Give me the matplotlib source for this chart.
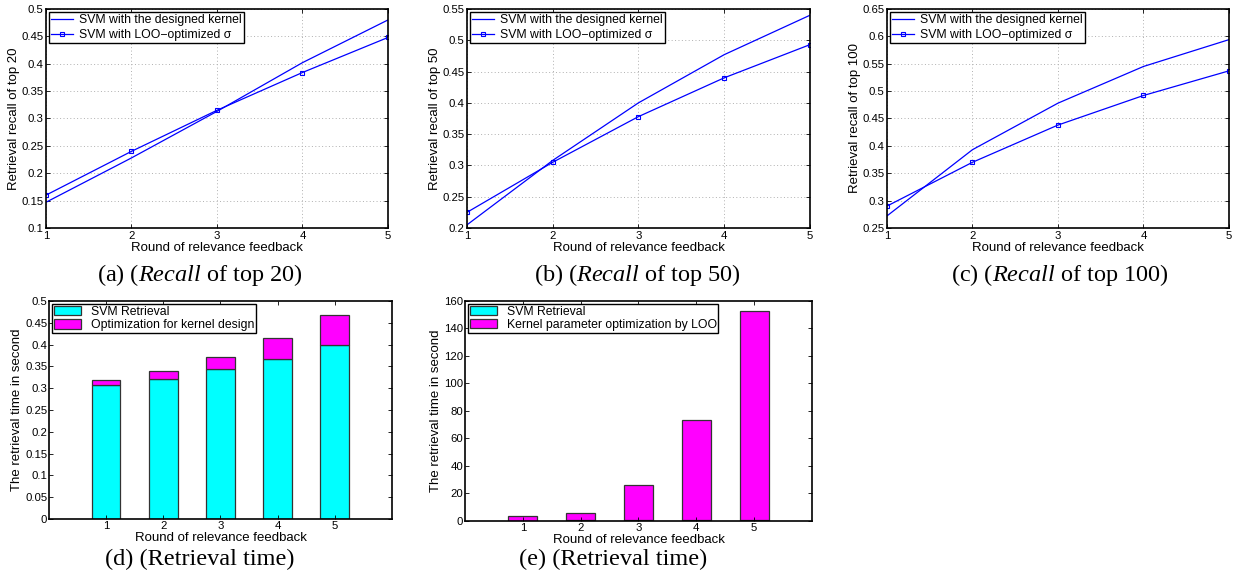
# Recall and retrieval-time figure: three line panels on top, two bar panels below
import numpy as np
import matplotlib
matplotlib.use('Agg')
import matplotlib.pyplot as plt
from matplotlib.ticker import FormatStrFormatter

plt.rcParams['font.family'] = ['Liberation Sans', 'DejaVu Sans']
plt.rcParams['mathtext.fontset'] = 'custom'
plt.rcParams['mathtext.rm'] = 'Liberation Serif'
plt.rcParams['mathtext.it'] = 'Liberation Serif:italic'

# data
rounds = [1, 2, 3, 4, 5]

recall20_designed = [0.147, 0.228, 0.313, 0.402, 0.480]
recall20_loo = [0.160, 0.240, 0.315, 0.384, 0.448]

recall50_designed = [0.205, 0.308, 0.400, 0.477, 0.540]
recall50_loo = [0.225, 0.305, 0.378, 0.440, 0.493]

recall100_designed = [0.272, 0.393, 0.478, 0.545, 0.594]
recall100_loo = [0.290, 0.370, 0.438, 0.492, 0.537]

svm_time = [0.308, 0.322, 0.343, 0.368, 0.398]
kernel_design_time = [0.010, 0.017, 0.028, 0.046, 0.069]
loo_time = [3.2, 5.7, 25.7, 72.7, 152.6]

legend_lines = ['SVM with the designed kernel', 'SVM with LOO\u2212optimized \u03c3']
legend_d = ['SVM Retrieval', 'Optimization for kernel design']
legend_e = ['SVM Retrieval', 'Kernel parameter optimization by LOO']

xlab = 'Round of relevance feedback'
tick_fs = 8.2
lab_fs = 9.5
leg_fs = 8.8

fig = plt.figure(figsize=(12.36, 5.84), dpi=100)


def style_axes(ax, pad=2):
    ax.tick_params(direction='in', top=True, right=True, labelsize=tick_fs,
                   length=3, width=0.6, pad=pad)
    for s in ax.spines.values():
        s.set_linewidth(1.2)
    ax.yaxis.set_major_formatter(FormatStrFormatter('%g'))


def line_panel(rect, designed, loo, ylim, yticks, ylabel, ylab_x):
    ax = fig.add_axes(rect)
    ax.plot(rounds, designed, color='blue', lw=0.9, label=legend_lines[0])
    ax.plot(rounds, loo, color='blue', lw=0.9, marker='s', ms=3.5,
            mfc='none', mew=0.8, label=legend_lines[1])
    ax.set_xlim(1, 5)
    ax.set_ylim(*ylim)
    ax.set_xticks(rounds)
    ax.set_yticks(yticks)
    ax.grid(True, color='#b0b0b0', linestyle=(0, (1, 2.5)), lw=0.7)
    style_axes(ax)
    ax.set_xlabel(xlab, fontsize=lab_fs)
    ax.xaxis.set_label_coords(0.5, -0.066)
    ax.set_ylabel(ylabel, fontsize=lab_fs)
    ax.yaxis.set_label_coords(ylab_x, 0.5)
    ax.legend(loc='upper left', fontsize=leg_fs, frameon=True, fancybox=False,
              edgecolor='black', framealpha=1, borderaxespad=0.25,
              borderpad=0.2, handlelength=1.8, labelspacing=0.2,
              handletextpad=0.45).get_frame().set_linewidth(1.0)
    return ax


def bar_panel(rect, base, top, ylim, yticks, labels, ylab_x):
    ax = fig.add_axes(rect)
    ax.bar(rounds, base, width=0.5, color='#00ffff', edgecolor='#333333',
           lw=0.9, label=labels[0])
    ax.bar(rounds, top, width=0.5, bottom=base, color='#ff00ff',
           edgecolor='#333333', lw=0.9, label=labels[1])
    ax.set_xlim(0, 6)
    ax.set_ylim(*ylim)
    ax.set_xticks(rounds)
    ax.set_yticks(yticks)
    style_axes(ax, pad=1.2)
    ax.set_xlabel(xlab, fontsize=lab_fs)
    ax.xaxis.set_label_coords(0.5, -0.06)
    ax.set_ylabel('The retrieval time in second', fontsize=lab_fs)
    ax.yaxis.set_label_coords(ylab_x, 0.5)
    ax.legend(loc='upper left', fontsize=leg_fs, frameon=True, fancybox=False,
              edgecolor='black', framealpha=1, borderaxespad=0.25,
              borderpad=0.15, handlelength=2.2, handleheight=0.8,
              labelspacing=0.1, handletextpad=0.8).get_frame().set_linewidth(1.0)
    return ax


line_panel([0.0372, 0.6096, 0.2767, 0.375], recall20_designed, recall20_loo,
           (0.1, 0.5), np.arange(0.1, 0.501, 0.05),
           'Retrieval recall of top 20', -0.076)
line_panel([0.3778, 0.6096, 0.2775, 0.375], recall50_designed, recall50_loo,
           (0.2, 0.55), np.arange(0.2, 0.551, 0.05),
           'Retrieval recall of top 50', -0.076)
line_panel([0.7176, 0.6096, 0.2767, 0.375], recall100_designed, recall100_loo,
           (0.25, 0.65), np.arange(0.25, 0.651, 0.05),
           'Retrieval recall of top 100', -0.076)

bar_panel([0.0396, 0.1113, 0.2775, 0.3733], svm_time, kernel_design_time,
          (0, 0.5), np.arange(0, 0.501, 0.05), legend_d, -0.076)
bar_panel([0.3762, 0.1080, 0.2807, 0.3767], svm_time, loo_time,
          (0, 160), np.arange(0, 161, 20), legend_e, -0.066)

cap_fs = 17.5
fig.text(200 / 1236, 1 - 275 / 584, r'(a) ($\mathit{Recall}$ of top 20)',
         ha='center', va='center', fontsize=cap_fs, family='Liberation Serif')
fig.text(637 / 1236, 1 - 275 / 584, r'(b) ($\mathit{Recall}$ of top 50)',
         ha='center', va='center', fontsize=cap_fs, family='Liberation Serif')
fig.text(1060 / 1236, 1 - 275 / 584, r'(c) ($\mathit{Recall}$ of top 100)',
         ha='center', va='center', fontsize=cap_fs, family='Liberation Serif')
fig.text(200 / 1236, 1 - 559 / 584, '(d) (Retrieval time)',
         ha='center', va='center', fontsize=cap_fs, family='Liberation Serif')
fig.text(613 / 1236, 1 - 559 / 584, '(e) (Retrieval time)',
         ha='center', va='center', fontsize=cap_fs, family='Liberation Serif')

fig.savefig('out.png', dpi=100)
